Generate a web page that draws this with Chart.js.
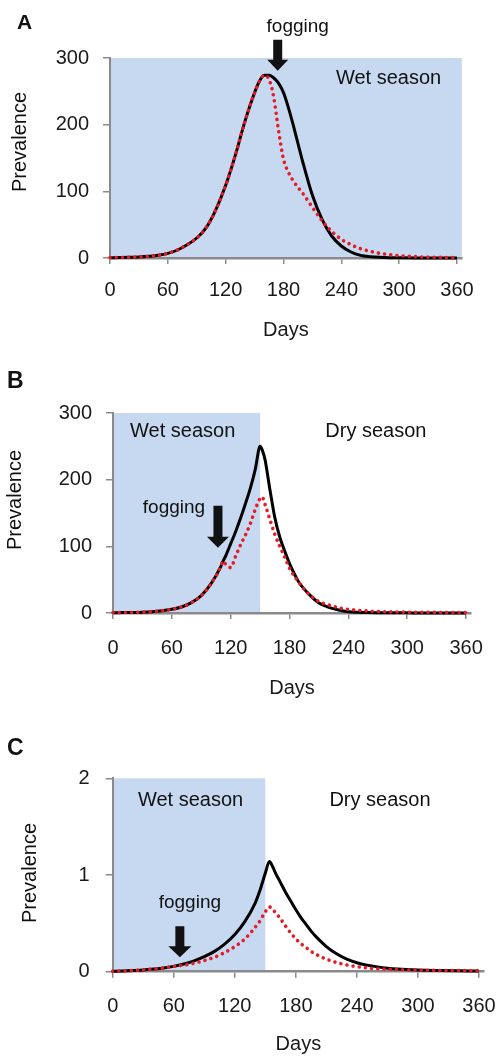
<!DOCTYPE html>
<html>
<head>
<meta charset="utf-8">
<script src="https://cdn.jsdelivr.net/npm/chart.js@4.4.1/dist/chart.umd.min.js"></script>
<style>
  body { margin: 0; background: #fff; width: 498px; height: 1056px; overflow: hidden; position: relative; }
  .panel { position: absolute; left: 0; width: 498px; }
</style>
</head>
<body>
<div class="panel" style="top:0;height:345px"><canvas id="chartA"></canvas></div>
<div class="panel" style="top:345px;height:355px"><canvas id="chartB"></canvas></div>
<div class="panel" style="top:700px;height:356px"><canvas id="chartC"></canvas></div>
<script>
// Panel A - fogging at the peak, whole year wet
const daysA = [0,10,20,30,40,50,60,70,80,90,100,110,120,130,140,150,155,160,165,170,175,180,185,190,195,200,210,220,230,240,250,260,270,280,290,300,320,340,360];
const noFogA = [0.5,0.7,1,1.5,2.5,4,7,12,20,30,46,73,109,154,205,248,265,274,274,270,262,248,226,200,172,144,94,58,33,18,9,4,2,1,0.5,0.3,0.1,0,0];
const fogA = [0.5,0.7,1,1.5,2.5,4,7,12,20,30,46,73,109,154,205,248,265,274,268,240,190,148,129,116,106,97,76,56,40,28,20,14,10,7,5,3.5,1.8,1,0.5];

// Panel B - fogging before the peak, wet season until day 150
const daysB = [0,10,20,30,40,50,60,70,80,90,100,110,112,115,120,125,130,135,140,145,150,152,155,160,165,170,175,180,190,200,210,220,230,240,250,260,270,280,300,320,340,360];
const noFogB = [0.5,0.6,0.8,1.2,2,3.5,5.5,9,15.5,26,44,70,77,86,104,122,142,164,187,215,250,245,230,185,143,114,93,74,45,28,15,8.5,4.5,2,1,0.6,0.4,0.3,0.2,0.1,0.1,0.1];
const fogB = [0.5,0.6,0.8,1.2,2,3.5,5.5,9,15.5,26,44,70,78,73,68,85,102,117,134,155,172,174,163,140,118,100,84,67,45,28,17,12,8,5.5,4,3,2.2,1.8,1.2,1,0.8,0.6];

// Panel C - early fogging, wet season until day 150
const daysC = [0,10,20,30,40,50,60,70,80,90,100,110,120,130,140,145,150,154,157,160,164,170,175,180,185,190,195,200,210,220,230,240,250,260,270,280,300,320,340,360];
const noFogC = [0.004,0.007,0.012,0.018,0.027,0.038,0.055,0.08,0.112,0.155,0.21,0.285,0.385,0.52,0.71,0.85,1.02,1.14,1.09,1.02,0.94,0.82,0.73,0.64,0.56,0.49,0.42,0.36,0.26,0.185,0.13,0.093,0.068,0.05,0.036,0.027,0.017,0.012,0.009,0.007];
const fogC = [0.004,0.007,0.012,0.018,0.027,0.038,0.055,0.068,0.088,0.115,0.15,0.198,0.26,0.34,0.46,0.53,0.62,0.67,0.65,0.61,0.56,0.47,0.4,0.34,0.29,0.25,0.21,0.178,0.13,0.095,0.07,0.052,0.04,0.031,0.025,0.021,0.016,0.013,0.011,0.01];

const panelLetters = ['A', 'B', 'C'];
const wetEnd = [365, 150, 150];
const fogDay = [174, 107, 66];
const fogTip = [281, 98, 0.15];
const yMax = [300, 300, 2];
const yStep = [100, 100, 1];
const seasonLabels = [
  [{ text: 'Wet season', day: 289, level: 261 }],
  [{ text: 'Wet season', day: 71, level: 264 }, { text: 'Dry season', day: 268, level: 264 }],
  [{ text: 'Wet season', day: 76.5, level: 1.71 }, { text: 'Dry season', day: 262.7, level: 1.71 }]
];

Chart.defaults.font.family = "'Liberation Sans', Arial, sans-serif";
Chart.defaults.color = '#1a1a1a';

const FONT = "'Liberation Sans', Arial, sans-serif";
const AXIS_GREY = '#8a8a8a';

// layout of each panel (pixels)
const layouts = [
  { padTop: 58, padLeft: 9, padRight: 36.2, yW: 101, xH: 87, yPad: 14, xPad: 14, titlePad: 3,
    letter: [17, 29, 21], yTitle: [20, 142], arrow: { shaft: 20, head: 11, w: 9, hw: 21 }, fogText: [20, -39] },
  { padTop: 68, padLeft: 9, padRight: 27, yW: 104, xH: 87, yPad: 14, xPad: 17, titlePad: 0,
    letter: [7, 43, 23], yTitle: [15, 155], arrow: { shaft: 31, head: 11, w: 9, hw: 22 }, fogText: [-44, -35] },
  { padTop: 78.3, padLeft: 9, padRight: 13.9, yW: 103.7, xH: 84.3, yPad: 16, xPad: 17, titlePad: 0,
    letter: [7, 55, 23], yTitle: [30, 173], arrow: { shaft: 20, head: 11, w: 9, hw: 23 }, fogText: [10, -49] }
];

const decor = {
  id: 'decor',
  beforeDraw(chart, args, o) {
    const { ctx } = chart;
    const x = chart.scales.x, y = chart.scales.y;
    const x0 = x.getPixelForValue(0), x1 = x.getPixelForValue(o.wetEnd);
    const yt = y.getPixelForValue(o.yMax), yb = y.getPixelForValue(0);
    ctx.save();
    ctx.fillStyle = '#c6d9f1';
    ctx.fillRect(x0, yt, x1 - x0, yb - yt);
    ctx.restore();
  },
  afterDraw(chart, args, o) {
    const { ctx } = chart;
    const x = chart.scales.x, y = chart.scales.y;
    const L = o.layout;
    ctx.save();
    ctx.fillStyle = '#111';

    // panel letter
    ctx.font = 'bold ' + L.letter[2] + 'px ' + FONT;
    ctx.textAlign = 'left';
    ctx.textBaseline = 'alphabetic';
    ctx.fillText(o.letter, L.letter[0], L.letter[1]);

    // y axis title
    ctx.save();
    ctx.font = '20px ' + FONT;
    ctx.translate(L.yTitle[0], L.yTitle[1]);
    ctx.rotate(-Math.PI / 2);
    ctx.textAlign = 'center';
    ctx.textBaseline = 'middle';
    ctx.fillText('Prevalence', 0, 0);
    ctx.restore();

    // season labels
    ctx.font = '20px ' + FONT;
    ctx.textAlign = 'center';
    ctx.textBaseline = 'alphabetic';
    o.seasons.forEach(s => {
      ctx.fillText(s.text, x.getPixelForValue(s.day), y.getPixelForValue(s.level));
    });

    // fogging arrow
    const ax = x.getPixelForValue(o.fogDay);
    const tip = y.getPixelForValue(o.fogTip);
    const a = L.arrow;
    ctx.beginPath();
    ctx.moveTo(ax - a.w / 2, tip - a.head - a.shaft);
    ctx.lineTo(ax + a.w / 2, tip - a.head - a.shaft);
    ctx.lineTo(ax + a.w / 2, tip - a.head);
    ctx.lineTo(ax + a.hw / 2, tip - a.head);
    ctx.lineTo(ax, tip);
    ctx.lineTo(ax - a.hw / 2, tip - a.head);
    ctx.lineTo(ax - a.w / 2, tip - a.head);
    ctx.closePath();
    ctx.fill();

    ctx.font = '19px ' + FONT;
    ctx.textAlign = 'center';
    ctx.fillText('fogging', ax + L.fogText[0], tip + L.fogText[1]);
    ctx.restore();
  }
};

function pts(days, vals) {
  return days.map((d, i) => ({ x: d, y: vals[i] }));
}

function makeChart(id, i, days, noFog, fog) {
  const L = layouts[i];
  return new Chart(document.getElementById(id), {
    type: 'line',
    data: {
      datasets: [
        {
          label: 'fogging',
          data: pts(days, fog),
          borderColor: 'rgb(232,26,36)',
          borderWidth: 3.6,
          borderDash: [0.01, 6.2],
          borderCapStyle: 'round',
          pointRadius: 0,
          cubicInterpolationMode: 'monotone',
          clip: 8
        },
        {
          label: 'no fogging',
          data: pts(days, noFog),
          borderColor: '#000',
          borderWidth: 3,
          pointRadius: 0,
          cubicInterpolationMode: 'monotone',
          clip: 8
        }
      ]
    },
    options: {
      responsive: true,
      maintainAspectRatio: false,
      animation: false,
      events: [],
      layout: { padding: { top: L.padTop, left: L.padLeft, right: L.padRight, bottom: 0 } },
      scales: {
        x: {
          type: 'linear',
          min: 0,
          max: 365,
          afterFit: (s) => { s.height = L.xH; s.paddingLeft = 0; s.paddingRight = 0; },
          border: { color: AXIS_GREY, width: 2.5 },
          grid: { drawOnChartArea: false, drawTicks: true, tickLength: 6, color: AXIS_GREY, lineWidth: 1.5 },
          ticks: { stepSize: 60, includeBounds: false, maxRotation: 0, padding: L.xPad, font: { size: 20 }, color: '#1a1a1a' },
          title: { display: true, text: 'Days', font: { size: 20 }, color: '#1a1a1a', padding: { top: 0, bottom: L.titlePad } }
        },
        y: {
          min: 0,
          max: yMax[i],
          afterFit: (s) => { s.width = L.yW; s.paddingTop = 0; s.paddingBottom = 0; },
          border: { color: AXIS_GREY, width: 2 },
          grid: { drawOnChartArea: false, drawTicks: true, tickLength: 7, color: AXIS_GREY, lineWidth: 1.5 },
          ticks: { stepSize: yStep[i], padding: L.yPad, font: { size: 20 }, color: '#1a1a1a' }
        }
      },
      plugins: {
        legend: { display: false },
        tooltip: { enabled: false },
        decor: {
          layout: L,
          letter: panelLetters[i],
          wetEnd: wetEnd[i],
          yMax: yMax[i],
          fogDay: fogDay[i],
          fogTip: fogTip[i],
          seasons: seasonLabels[i]
        }
      }
    },
    plugins: [decor]
  });
}

makeChart('chartA', 0, daysA, noFogA, fogA);
makeChart('chartB', 1, daysB, noFogB, fogB);
makeChart('chartC', 2, daysC, noFogC, fogC);
</script>
</body>
</html>
